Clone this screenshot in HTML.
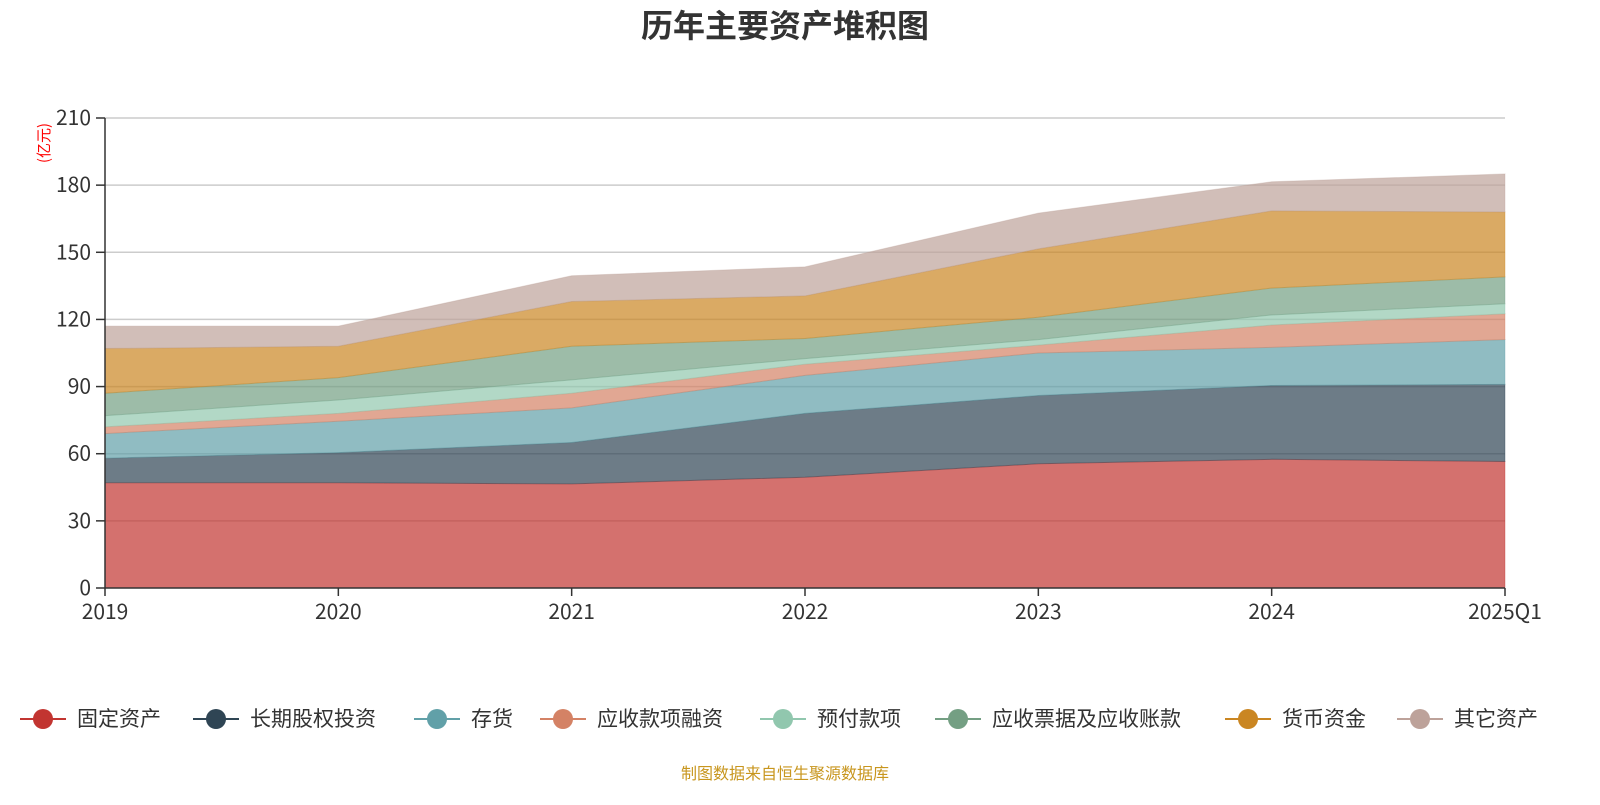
<!DOCTYPE html>
<html><head><meta charset="utf-8">
<style>
body{margin:0;width:1600px;height:800px;background:#fff;font-family:"Noto Sans CJK SC","Liberation Sans",sans-serif;overflow:hidden;}
</style></head>
<body>
<svg id="chart" width="1600" height="800" xmlns="http://www.w3.org/2000/svg" font-family="Noto Sans CJK SC, Liberation Sans, sans-serif">
<text x="785" y="37" text-anchor="middle" font-size="32" font-weight="bold" fill="#333">历年主要资产堆积图</text>
<text transform="translate(49,143) rotate(-90)" text-anchor="middle" font-size="15" fill="#f00">(亿元)</text>
<g id="grid"></g><g id="areas"></g><g id="axes"></g>
<text x="785" y="779" text-anchor="middle" font-size="16" fill="#c8961e">制图数据来自恒生聚源数据库</text>
<g id="legend"></g>
</svg>
<script>
const categories=["2019","2020","2021","2022","2023","2024","2025Q1"];
const seriesNames=["固定资产","长期股权投资","存货","应收款项融资","预付款项","应收票据及应收账款","货币资金","其它资产"];
const fixedAssets=[47,47,46.5,49.5,55.5,57.5,56.5];
const longEquity=[11,13.5,18.5,28.5,30.5,33,34.5];
const inventory=[11,14,15.5,17,19,17,20];
const recvFinancing=[3,3.5,6.5,5,3.5,10,11.5];
const prepayments=[5,6,6,2.5,2.5,4.5,4.5];
const receivables=[10,10,15,9,10,12,12];
const cash=[20,14,20,19,30.5,34.5,29];
const otherAssets=[10,9,11.5,13,16,13,17];
const yTicks=[0,30,60,90,120,150,180,210];
const colors=["#c23531","#2f4554","#61a0a8","#d48265","#91c7ae","#749f83","#ca8622","#bda29a"];
const series=[fixedAssets,longEquity,inventory,recvFinancing,prepayments,receivables,cash,otherAssets];
const NS="http://www.w3.org/2000/svg";
const X0=105,X1=1505,Y0=588,Y1=118,YMAX=210;
const xs=i=>X0+(X1-X0)*i/(categories.length-1);
const ys=v=>Y0-(Y0-Y1)*v/YMAX;
function mk(tag,attrs,parent){const e=document.createElementNS(NS,tag);for(const k in attrs)e.setAttribute(k,attrs[k]);parent.appendChild(e);return e;}
const grid=document.getElementById('grid'),axes=document.getElementById('axes'),areas=document.getElementById('areas'),legend=document.getElementById('legend');
yTicks.forEach(t=>{
  if(t>0){const l=mk('line',{x1:X0,x2:X1,y1:ys(t),y2:ys(t),stroke:'#ccc','stroke-width':1.5},grid);
  
  }
  const tk=mk('line',{x1:X0-9,x2:X0,y1:ys(t),y2:ys(t),stroke:'#333','stroke-width':1.5},axes);
  
  
  const tx=mk('text',{x:X0-14,y:ys(t)+7,'text-anchor':'end','font-size':21,fill:'#333'},axes);tx.textContent=t;
  
  
});
let base=categories.map(()=>0);
series.forEach((s,k)=>{
  const top=base.map((b,i)=>b+s[i]);
  let d='M'+top.map((v,i)=>xs(i)+','+ys(v)).join('L');
  for(let i=categories.length-1;i>=0;i--)d+='L'+xs(i)+','+ys(base[i]);
  const p=mk('path',{d:d+'Z',fill:colors[k],'fill-opacity':0.7,stroke:colors[k],'stroke-opacity':0.35,'stroke-width':1},areas);
  
  
  base=top;
});
const ya=mk('line',{x1:X0,x2:X0,y1:Y1,y2:Y0,stroke:'#333','stroke-width':1.5},axes);


const xa=mk('line',{x1:X0,x2:X1,y1:Y0,y2:Y0,stroke:'#333','stroke-width':1.5},axes);


categories.forEach((c,i)=>{
  const tk=mk('line',{x1:xs(i),x2:xs(i),y1:Y0,y2:Y0+8,stroke:'#333','stroke-width':1.5},axes);
  
  
  const tx=mk('text',{x:xs(i),y:619,'text-anchor':'middle','font-size':21,fill:'#333'},axes);tx.textContent=c;
  
  
});
const legX=[20,193,414,540,760,935,1225,1397];
seriesNames.forEach((n,k)=>{
  const g=mk('g',{},legend);
  
  
  const x=legX[k];
  mk('line',{x1:x,x2:x+46,y1:719,y2:719,stroke:colors[k],'stroke-width':2},g);
  mk('circle',{cx:x+23,cy:719,r:10,fill:colors[k]},g);
  const t=mk('text',{x:x+57,y:726,'font-size':21,fill:'#333'},g);t.textContent=n;
});
</script>
</body></html>
